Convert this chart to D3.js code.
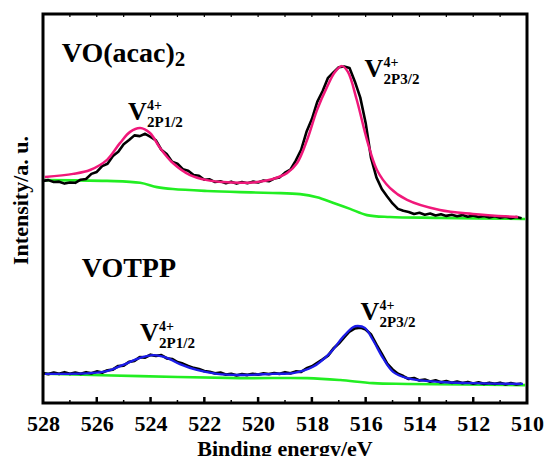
<!DOCTYPE html>
<html>
<head>
<meta charset="utf-8">
<script src="https://cdn.jsdelivr.net/npm/d3@7"></script>
<style>
  html, body { margin: 0; padding: 0; background: #fff; }
  svg { display: block; }
  text { font-family: "Liberation Serif", "Times New Roman", serif; font-weight: bold; fill: #000; }
</style>
</head>
<body>
<svg id="chart" width="544" height="456"></svg>
<script>
// ---------- DATA ----------
const xTicks = [528, 526, 524, 522, 520, 518, 516, 514, 512, 510];
const energyStart = 528.0;   // raw data sampling grid (eV)
const energyStep = 0.2;

// VO(acac)2 measured spectrum (a.u.), one value per 0.2 eV from 528.0 to 510.2
const acacRaw = [57.1, 57.3, 56.8, 56.9, 56.4, 56.7, 56.6, 57.4, 57.6, 58.9,
  59.4, 60.9, 61.5, 63.5, 64.6, 66.5, 67.6, 68.8, 68.6, 69.2,
  68.4, 67.5, 65.1, 64.0, 62.0, 61.5, 60.1, 59.7, 58.6, 58.4,
  57.4, 57.5, 56.8, 57.0, 56.5, 56.9, 56.4, 56.8, 56.5, 56.9,
  56.7, 57.2, 57.0, 57.7, 58.0, 59.2, 60.0, 62.3, 65.1, 69.7,
  73.0, 77.4, 80.2, 83.6, 85.0, 86.3, 86.5, 86.1, 82.6, 78.5,
  72.0, 63.0, 58.0, 55.0, 53.1, 51.3, 49.9, 49.4, 49.1, 48.6,
  48.9, 48.4, 48.7, 48.2, 48.5, 48.1, 48.4, 48.0, 48.3, 47.9,
  48.2, 47.8, 48.1, 47.7, 48.0, 47.6, 47.9, 47.5, 47.8, 47.5];

// VOTPP measured spectrum (a.u.), same grid
const votppRaw = [7.7, 7.4, 7.8, 7.5, 7.9, 7.5, 7.8, 7.5, 7.9, 7.6,
  8.1, 7.8, 8.4, 8.6, 9.5, 9.6, 10.6, 10.8, 11.8, 11.7,
  12.4, 12.1, 12.3, 11.5, 11.3, 10.5, 10.1, 9.5, 9.0, 8.7,
  8.2, 8.0, 7.6, 7.8, 7.3, 7.5, 7.1, 7.4, 7.2, 7.5,
  7.3, 7.6, 7.4, 7.7, 7.5, 7.9, 7.6, 8.1, 8.0, 8.9,
  9.4, 10.3, 11.2, 12.2, 14.0, 15.3, 16.9, 18.4, 19.2, 19.4,
  18.9, 17.6, 15.0, 12.6, 10.1, 8.6, 7.5, 6.9, 6.2, 6.4,
  5.8, 6.0, 5.5, 5.8, 5.3, 5.6, 5.2, 5.5, 5.1, 5.4,
  5.0, 5.3, 4.9, 5.2, 4.9, 5.2, 4.8, 5.1, 4.8, 5.0];

// fitted envelopes [eV, a.u.]
const acacFit = [[527.93,58.1],[526.88,58.9],[526.25,59.9],[525.62,62.5],[525.14,66.8],
  [524.76,69.7],[524.39,70.7],[524.02,69.4],[523.65,65.6],[523.17,61.7],[522.53,58.6],
  [521.90,57.3],[521.31,56.8],[520.67,56.6],[520.04,56.8],[519.45,57.6],[518.93,59.1],
  [518.55,61.7],[518.18,67.6],[517.81,75.3],[517.44,81.2],[517.14,85.1],[516.88,86.6],
  [516.66,85.1],[516.33,77.9],[515.95,67.6],[515.58,59.9],[515.10,55.3],[514.46,52.2],
  [513.24,49.6],[512.01,48.6],[510.33,47.8]];

const votppFit = [[527.93,7.5],[526.25,7.7],[525.62,8.2],[525.02,9.8],[524.39,11.6],
  [523.91,12.3],[523.39,11.6],[522.91,10.0],[522.28,8.5],[521.53,7.5],[520.67,7.2],
  [519.45,7.5],[518.70,7.7],[517.96,9.3],[517.32,12.9],[516.84,17.0],[516.47,19.5],
  [516.29,19.8],[516.03,19.3],[515.73,16.2],[515.36,11.6],[514.98,8.0],[514.46,6.4],
  [513.24,5.4],[512.01,5.1],[510.15,4.9]];

// Shirley backgrounds [eV, a.u.]
const acacBg = [[527.93,57.3],[525.62,57.1],[524.39,56.6],[523.76,55.5],[523.17,55.0],
  [521.90,54.5],[520.67,54.2],[519.45,54.0],[518.44,53.7],[517.81,52.9],[517.22,51.5],
  [516.58,49.9],[515.95,48.3],[515.10,47.8],[513.24,47.6],[510.07,47.3]];

const votppBg = [[527.93,7.5],[524.39,6.9],[520.67,6.4],[518.18,6.4],[516.95,5.9],
  [515.73,5.1],[514.46,4.9],[510.07,4.6]];

// annotations: [eV, a.u.] anchor at baseline-left of the "V"
const peakLabels = [
  { e: 524.84, v: 72.8, sub: "2P1/2" },
  { e: 516.04, v: 83.8, sub: "2P3/2" },
  { e: 524.39, v: 15.9, sub: "2P1/2" },
  { e: 516.19, v: 21.3, sub: "2P3/2" }
];
const sampleLabels = [
  { e: 527.30, v: 87.6, main: "VO(acac)", sub: "2" },
  { e: 526.56, v: 32.4, main: "VOTPP", sub: "" }
];

// ---------- CHART ----------
const m = { left: 43, right: 527, top: 14, bottom: 403 };
const svg = d3.select("#chart");

const x = d3.scaleLinear().domain([528, 510]).range([m.left, m.right]);
const y = d3.scaleLinear().domain([0, 100]).range([m.bottom, m.top]);

const toPairs = raw => raw.map((v, i) => [+(energyStart - energyStep * i).toFixed(1), v]);

const lineLin = d3.line().x(d => x(d[0])).y(d => y(d[1])).curve(d3.curveLinear);
const lineSmooth = d3.line().x(d => x(d[0])).y(d => y(d[1])).curve(d3.curveCatmullRom.alpha(0.5));

const plot = svg.append("g");

plot.append("path").datum(acacBg).attr("d", lineSmooth)
  .attr("fill", "none").attr("stroke", "#22ee22").attr("stroke-width", 2.6);
plot.append("path").datum(votppBg).attr("d", lineSmooth)
  .attr("fill", "none").attr("stroke", "#22ee22").attr("stroke-width", 2.6);

plot.append("path").datum(toPairs(acacRaw)).attr("d", lineLin)
  .attr("fill", "none").attr("stroke", "#000").attr("stroke-width", 2.6).attr("stroke-linejoin", "round");
plot.append("path").datum(toPairs(votppRaw)).attr("d", lineLin)
  .attr("fill", "none").attr("stroke", "#000").attr("stroke-width", 2.8).attr("stroke-linejoin", "round");

plot.append("path").datum(acacFit).attr("d", lineSmooth)
  .attr("fill", "none").attr("stroke", "#f0187a").attr("stroke-width", 2.5);
plot.append("path").datum(votppFit).attr("d", lineSmooth)
  .attr("fill", "none").attr("stroke", "#1c1ce8").attr("stroke-width", 2.3);

// frame
svg.append("rect")
  .attr("x", m.left).attr("y", m.top)
  .attr("width", m.right - m.left).attr("height", m.bottom - m.top)
  .attr("fill", "none").attr("stroke", "#000").attr("stroke-width", 3);

// bottom axis
const xAxis = d3.axisBottom(x).tickValues(xTicks).tickSize(0).tickPadding(0).tickFormat(d3.format("d"));
const gx = svg.append("g").attr("transform", `translate(0,${m.bottom})`).call(xAxis);
gx.select(".domain").remove();
gx.selectAll("text").attr("dy", null).attr("y", 28)
  .style("font-size", "22px").style("font-family", '"Liberation Serif", serif').style("font-weight", "bold");

// inward ticks bottom (major even, minor odd) and top (every eV)
const minor = d3.range(527, 510, -2);
svg.append("g").selectAll("line").data(xTicks.filter(d => d !== 528 && d !== 510)).join("line")
  .attr("x1", d => x(d)).attr("x2", d => x(d))
  .attr("y1", m.bottom).attr("y2", m.bottom - 6)
  .attr("stroke", "#000").attr("stroke-width", 2.5);
svg.append("g").selectAll("line").data(minor).join("line")
  .attr("x1", d => x(d)).attr("x2", d => x(d))
  .attr("y1", m.bottom).attr("y2", m.bottom - 3)
  .attr("stroke", "#000").attr("stroke-width", 1.5);
svg.append("g").selectAll("line").data(d3.range(527, 510, -1)).join("line")
  .attr("x1", d => x(d)).attr("x2", d => x(d))
  .attr("y1", m.top).attr("y2", m.top + 3)
  .attr("stroke", "#000").attr("stroke-width", 1.2);

// axis titles
svg.append("text").attr("x", (m.left + m.right) / 2).attr("y", 456)
  .attr("text-anchor", "middle").style("font-size", "22px").text("Binding energy/eV");
svg.append("text").attr("transform", `translate(28,${(m.top + m.bottom) / 2 - 8}) rotate(-90)`)
  .attr("text-anchor", "middle").style("font-size", "22px").text("Intensity/a. u.");

// sample labels
sampleLabels.forEach(s => {
  const t = svg.append("text").attr("x", x(s.e)).attr("y", y(s.v)).style("font-size", "28px");
  t.append("tspan").text(s.main);
  if (s.sub) t.append("tspan").attr("dy", 4).style("font-size", "21px").text(s.sub);
});

// peak labels
peakLabels.forEach(p => {
  const px = x(p.e), py = y(p.v);
  svg.append("text").attr("x", px).attr("y", py).style("font-size", "26px").text("V");
  svg.append("text").attr("x", px + 19).attr("y", py - 10).style("font-size", "14px").text("4+");
  svg.append("text").attr("x", px + 19).attr("y", py + 7).style("font-size", "15px").text(p.sub);
});
</script>
</body>
</html>
